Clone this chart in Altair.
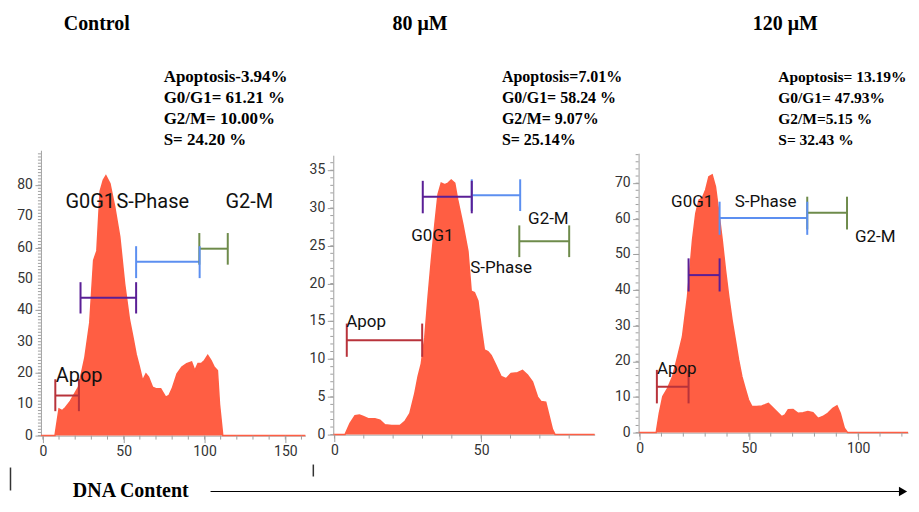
import altair as alt
import pandas as pd

# ---------------- data ----------------
# Control
ctrl_x = [-1.2, 7.5, 10, 12, 14, 17, 22, 26, 29, 31.4, 33.4, 35.4, 37.4, 39, 41.5, 44.5, 47.6, 50.6,
          53.6, 55.7, 57.7, 59.7, 61.7, 63.8, 65.4, 67.8, 70, 72.9, 76, 78, 80, 83, 86, 89, 92, 94,
          96, 98, 100, 102, 104, 106, 108, 109.3, 111.3, 162.4]
ctrl_y = [0, 0, 8.5, 8, 9, 11, 15.5, 25, 36, 56, 59, 78, 81.6, 83, 80.5, 73, 63.5, 48.5,
          37, 31.5, 26, 22, 17.6, 19.7, 18.7, 15.5, 15, 15, 12.3, 12.8, 15, 19.7, 21.9, 23, 23.5, 20.8,
          23, 23, 24, 25.6, 24, 21.9, 20.8, 10, 0, 0]
# 80 uM
m80_x = [-0.4, 3.6, 5.3, 7, 8.5, 9.8, 11.5, 13.8, 15.5, 17.2, 19.5, 22.3, 24, 25.7, 27.4, 28.5, 29.6,
         30.8, 31.9, 33, 34.2, 35.3, 36.4, 37.6, 38.7, 39.8, 41, 42, 43.8, 45.5, 46.6, 47.7, 48.9, 50,
         51.1, 52.3, 53.4, 55, 56.8, 58.5, 60.2, 62.4, 64.1, 65.8, 67.5, 69.2, 70.4, 72, 73.2, 74.3,
         75.2, 88.7]
m80_y = [0, 0, 1.5, 2.5, 2.6, 2.4, 2.1, 2.1, 1.9, 1.3, 1.2, 1.2, 1.75, 2.8, 5.5, 7.7, 9.4,
         12.9, 18.2, 23, 27.8, 31.8, 33.3, 33.1, 33.3, 33.7, 33.3, 31.1, 27.8, 24.3, 19, 18.8, 17.7, 14.2,
         11.2, 11, 10.5, 9.2, 7.7, 7.4, 8.1, 8.2, 8.5, 7.9, 7, 5, 4.4, 4.3, 2.4, 0.7,
         0, 0]
# 120 uM
m120_x = [-0.46, 7.6, 9, 10.6, 12.8, 15.1, 17.4, 19.6, 21.9, 24.2, 25.7, 27.2, 28.7, 30.2, 31.7, 33.2,
          34.7, 36.3, 37.8, 39.3, 40.8, 42.3, 43.8, 45.3, 46.8, 48.3, 49.8, 51.4, 53.6, 55.9, 57.4, 58.9,
          60.4, 62.7, 65, 66.5, 68, 70.2, 72.5, 74.8, 77, 79.3, 81.6, 83.8, 86.1, 88.4, 90.3, 91.8, 93.7,
          95.2, 122.8]
m120_y = [0, 0, 5.4, 10.1, 12.4, 15.7, 21.3, 26.9, 38.2, 54, 61.5, 65.3, 65.8, 68.1, 71.8, 72.3,
          69, 61.5, 54, 45.6, 38.2, 31.6, 26, 20.4, 15.7, 12.4, 9.2, 7.3, 7.3, 7.5, 7.8, 8.2,
          7.3, 5.9, 4.5, 5, 6.4, 6.5, 5.4, 5.6, 5.9, 5.6, 4, 4.5, 5.4, 6.8, 7.5, 5.4, 1.2,
          0, 0]

gate_names = ["Apop", "G0G1", "S-Phase", "G2-M"]
gate_colors = ["#B8333B", "#5A1F96", "#5C8FF0", "#6E8B4B"]

ctrl_gate_start = [7.7, 23.3, 57.7, 96.8]
ctrl_gate_end = [22.3, 57.7, 97.0, 114.4]
ctrl_gate_mid = [12.8, 44.0, 55.5, 59.7]
ctrl_gate_lo = [7.8, 39.0, 50.3, 54.6]
ctrl_gate_hi = [18.0, 49.0, 60.5, 64.7]
ctrl_label_x = [8, 14, 45.5, 113]
ctrl_label_y = [19, 74.7, 74.7, 74.7]

m80_gate_start = [4.2, 30.1, 46.8, 63.0]
m80_gate_end = [29.9, 46.8, 63.3, 80.0]
m80_gate_mid = [12.5, 31.5, 31.7, 25.6]
m80_gate_lo = [10.3, 29.3, 29.6, 23.5]
m80_gate_hi = [14.7, 33.6, 33.8, 27.7]
m80_label_x = [4, 26.2, 46.3, 66]
m80_label_y = [14.9, 26.3, 22.1, 28.5]

m120_gate_start = [7.9, 22.4, 36.6, 76.7]
m120_gate_end = [22.4, 36.6, 76.7, 94.9]
m120_gate_mid = [12.9, 44.2, 60.2, 61.7]
m120_gate_lo = [8.2, 39.6, 55.5, 57.0]
m120_gate_hi = [17.6, 48.9, 64.8, 66.2]
m120_label_x = [7.9, 14.4, 43.5, 98.5]
m120_label_y = [17.8, 64.8, 64.8, 55]

ctrl_ylabels = [0, 10, 20, 30, 40, 50, 60, 70, 80]
m80_ylabels = [0, 5, 10, 15, 20, 25, 30, 35]
m120_ylabels = [0, 10, 20, 30, 40, 50, 60, 70]

panel_titles = ["Control", "80 \u03bcM", "120 \u03bcM"]
ctrl_stats = ["Apoptosis-3.94%", "G0/G1= 61.21 %", "G2/M= 10.00%", "S= 24.20 %"]
m80_stats = ["Apoptosis=7.01%", "G0/G1= 58.24 %", "G2/M= 9.07%", "S= 25.14%"]
m120_stats = ["Apoptosis= 13.19%", "G0/G1= 47.93%", "G2/M=5.15 %", "S= 32.43 %"]
axis_caption = "DNA Content"

AREA = "#FF5E43"
AX = "#a0a0a0"
SERIF = "Liberation Serif"
SANS = "Roboto"


def make_axis(values, major_size, labels=True):
    return alt.Axis(
        values=values, tickSize=major_size, title=None, grid=False, labelFlush=False,
        labelOverlap=False, labels=labels, domainColor=AX, tickColor=AX, labelColor="#333333",
        labelFont=SANS, labelFontSize=14, labelPadding=2, tickWidth=1,
    )


def panel(hx, hy, gs, ge, gm, glo, ghi, lx, ly, label_size, ylabels,
          xdom, xlen, width, ydom, ytop, height, xmax_tick, ymax_tick, ystep,
          title, title_pos, stats, stats_pos, stats_size, extras=()):
    xscale = alt.Scale(domain=xdom, range=[0, xlen], nice=False, zero=False)
    yscale = alt.Scale(domain=ydom, range=[height, ytop], nice=False, zero=False)
    xaxis = make_axis(list(range(0, xmax_tick + 1, 50)), 7)
    yaxis = make_axis(ylabels, 6, labels=False)

    hist = pd.DataFrame({"x": hx, "y": hy})
    area = alt.Chart(hist).mark_area(color=AREA, opacity=1, line={"color": AREA, "strokeWidth": 1.5}).encode(
        x=alt.X("x:Q", scale=xscale, axis=xaxis),
        y=alt.Y("y:Q", scale=yscale, axis=yaxis),
    )

    # y tick labels
    ylab = alt.Chart(pd.DataFrame({"yl": ylabels})).mark_text(
        align="right", baseline="middle", font=SANS, fontSize=14, color="#333333").encode(
        y=alt.Y("yl:Q", scale=yscale, title=None), x=alt.value(-8), text="yl:Q")

    # minor ticks along both axes
    xminor = pd.DataFrame({"xt": list(range(0, xmax_tick + 1, 10))})
    yminor = pd.DataFrame({"yt": [round(i * ystep, 3) for i in range(int(ymax_tick / ystep) + 1)]})
    xmin_marks = alt.Chart(xminor).mark_rule(color=AX, strokeWidth=1).encode(
        x=alt.X("xt:Q", scale=xscale, title=None), y=alt.value(height), y2=alt.value(height + 4))
    ymin_marks = alt.Chart(yminor).mark_rule(color=AX, strokeWidth=1).encode(
        y=alt.Y("yt:Q", scale=yscale, title=None), x=alt.value(-3), x2=alt.value(0))

    gates = pd.DataFrame({"gate": gate_names, "xs": gs, "xe": ge, "ym": gm, "lo": glo, "hi": ghi})
    cscale = alt.Scale(domain=gate_names, range=gate_colors)
    col = alt.Color("gate:N", scale=cscale, legend=None)
    hbar = alt.Chart(gates).mark_rule(strokeWidth=2).encode(
        x=alt.X("xs:Q", scale=xscale, title=None), x2="xe:Q",
        y=alt.Y("ym:Q", scale=yscale, title=None), color=col)
    lcap = alt.Chart(gates).mark_rule(strokeWidth=2).encode(
        x=alt.X("xs:Q", scale=xscale, title=None),
        y=alt.Y("lo:Q", scale=yscale, title=None), y2="hi:Q", color=col)
    rcap = alt.Chart(gates).mark_rule(strokeWidth=2).encode(
        x=alt.X("xe:Q", scale=xscale, title=None),
        y=alt.Y("lo:Q", scale=yscale, title=None), y2="hi:Q", color=col)

    labels = pd.DataFrame({"gate": gate_names, "lx": lx, "ly": ly})
    ltext = alt.Chart(labels).mark_text(align="left", baseline="middle", font=SANS,
                                        fontSize=label_size, color="#111111").encode(
        x=alt.X("lx:Q", scale=xscale, title=None),
        y=alt.Y("ly:Q", scale=yscale, title=None), text="gate:N")

    dummy = alt.Data(values=[{}])
    ttl = alt.Chart(dummy).mark_text(text=title, align="center", baseline="alphabetic", font=SERIF,
                                     fontWeight="bold", fontSize=20, color="black").encode(
        x=alt.value(title_pos[0]), y=alt.value(title_pos[1]))
    st = alt.Chart(dummy).mark_text(text=stats, align="left", baseline="alphabetic", font=SERIF,
                                    fontWeight="bold", fontSize=stats_size, lineHeight=20.8,
                                    color="black").encode(
        x=alt.value(stats_pos[0]), y=alt.value(stats_pos[1]))
    layers = [area, ylab, xmin_marks, ymin_marks, hbar, lcap, rcap, ltext, ttl, st] + list(extras)
    return alt.layer(*layers).properties(width=width, height=height)


dummy = alt.Data(values=[{}])
caption = alt.Chart(dummy).mark_text(text=axis_caption, align="left", baseline="alphabetic", font=SERIF,
                                     fontWeight="bold", fontSize=20, color="black").encode(
    x=alt.value(32), y=alt.value(348))
arrow_line = alt.Chart(dummy).mark_rule(color="black", strokeWidth=1.2).encode(
    x=alt.value(170), x2=alt.value(862), y=alt.value(342))
arrow_head = alt.Chart(dummy).mark_point(shape="triangle-right", filled=True, color="black",
                                         opacity=1, size=90).encode(
    x=alt.value(864), y=alt.value(342))
mark1 = alt.Chart(dummy).mark_rule(color="#333333", strokeWidth=1.5).encode(
    x=alt.value(-30.5), y=alt.value(318), y2=alt.value(341))

p1 = panel(ctrl_x, ctrl_y, ctrl_gate_start, ctrl_gate_end, ctrl_gate_mid, ctrl_gate_lo, ctrl_gate_hi,
           ctrl_label_x, ctrl_label_y, 20, ctrl_ylabels,
           [-1.2, 162.4], 265, 265, [0, 91.15], 0, 286, 160, 90, 1,
           panel_titles[0], (56, -120), ctrl_stats, (123, -68), 17,
           extras=(caption, arrow_line, arrow_head, mark1))

mark2 = alt.Chart(dummy).mark_rule(color="#333333", strokeWidth=1.5).encode(
    x=alt.value(-20), y=alt.value(315), y2=alt.value(327))
p2 = panel(m80_x, m80_y, m80_gate_start, m80_gate_end, m80_gate_mid, m80_gate_lo, m80_gate_hi,
           m80_label_x, m80_label_y, 17, m80_ylabels,
           [-0.4, 88.7], 262, 278, [0, 36.99], 5, 285, 80, 36, 1,
           panel_titles[1], (87, -120), m80_stats, (169, -68), 16, extras=(mark2,))

p3 = panel(m120_x, m120_y, m120_gate_start, m120_gate_end, m120_gate_mid, m120_gate_lo, m120_gate_hi,
           m120_label_x, m120_label_y, 17, m120_ylabels,
           [-0.46, 122.8], 270, 270, [0, 78.4], 3, 283, 120, 78, 2,
           panel_titles[2], (147, -120), m120_stats, (140, -68), 15.5)

chart = alt.hconcat(p1, p2, p3, spacing=28, bounds="flush").properties(
    padding={"left": 1, "top": 6, "right": 0, "bottom": 0}
).configure_view(stroke=None)

chart.save("out.html", embed_options={"renderer": "svg", "actions": False})
